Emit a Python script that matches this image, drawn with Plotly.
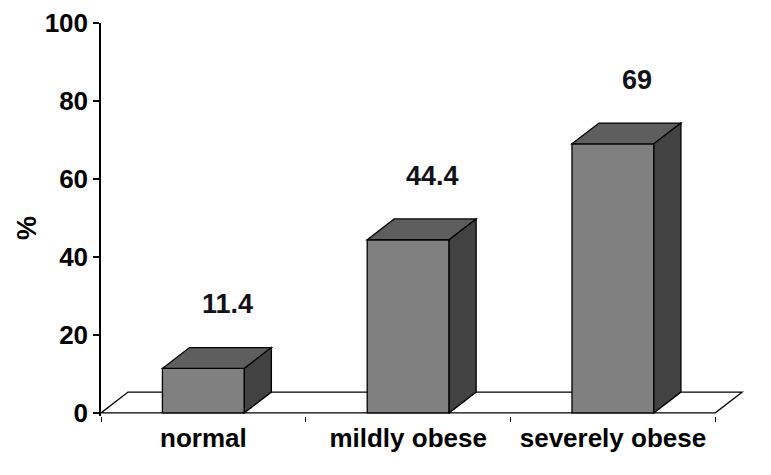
import plotly.graph_objects as go

categories = ["normal", "mildly obese", "severely obese"]
values = [11.4, 44.4, 69]
value_labels = ["11.4", "44.4", "69"]
y_ticks = [0, 20, 40, 60, 80, 100]

BAR_W = 0.40      # front face width in category units
DX = 0.132        # depth offset (category units)
DY = 5.34         # depth offset (y units)
FRONT = "#808080"
TOP = "#5e5e5e"
SIDE = "#424242"
LINE = dict(color="black", width=1.3)
FONT = "Liberation Sans, Arial, sans-serif"

fig = go.Figure()

# front faces
fig.add_trace(go.Bar(
    x=categories, y=values, width=BAR_W,
    marker=dict(color=FRONT, line=dict(color="black", width=1.3)),
    hoverinfo="x+y", showlegend=False,
))

shapes = []
# floor
n = len(categories)
shapes.append(dict(
    type="path", xref="x", yref="y", layer="below",
    path=f"M {-0.5} 0 L {n-0.5} 0 L {n-0.5+DX} {DY} L {-0.5+DX} {DY} Z",
    fillcolor="white", line=LINE,
))
for i, v in enumerate(values):
    x0 = i - BAR_W / 2
    x1 = i + BAR_W / 2
    # top face
    shapes.append(dict(
        type="path", xref="x", yref="y", layer="above",
        path=f"M {x0} {v} L {x0+DX} {v+DY} L {x1+DX} {v+DY} L {x1} {v} Z",
        fillcolor=TOP, line=LINE,
    ))
    # side face
    shapes.append(dict(
        type="path", xref="x", yref="y", layer="above",
        path=f"M {x1} 0 L {x1} {v} L {x1+DX} {v+DY} L {x1+DX} {DY} Z",
        fillcolor=SIDE, line=LINE,
    ))

annotations = []
for c, v, t in zip(categories, values, value_labels):
    annotations.append(dict(
        x=c, y=v, xref="x", yref="y", text="<b>" + t + "</b>", showarrow=False,
        xshift=24, yshift=64, yanchor="middle", xanchor="center",
        font=dict(family=FONT, size=27, color="#111118"),
    ))
annotations.append(dict(
    x=(19 - 93) / 643, y=(408 - 220) / 393, xref="paper", yref="paper",
    text="<b>%</b>", showarrow=False, textangle=-90, borderpad=0,
    xanchor="center", yanchor="middle",
    font=dict(family=FONT, size=27, color="black"),
))

fig.update_layout(
    width=763, height=467,
    margin=dict(l=93, r=27, t=15, b=59, autoexpand=False),
    paper_bgcolor="white", plot_bgcolor="white",
    shapes=shapes, annotations=annotations,
    bargap=0.6,
    xaxis=dict(
        type="category", range=[-0.5, 2.64], tickson="boundaries",
        ticks="outside", ticklen=5, tickwidth=1.3, tickcolor="black",
        showline=False, showgrid=False, zeroline=False, automargin=False,
        ticklabelstandoff=4,
        tickfont=dict(family=FONT, size=26, color="black", weight="bold"),
    ),
    yaxis=dict(
        range=[-0.8, 100], tickvals=y_ticks,
        ticks="outside", ticklen=6, tickwidth=1.5, tickcolor="black",
        showline=True, linecolor="black", linewidth=1.5, automargin=False,
        showgrid=False, zeroline=False, ticklabeloverflow="allow",
        tickfont=dict(family=FONT, size=26, color="black", weight="bold"),
    ),
)

fig.write_html("out.html")
